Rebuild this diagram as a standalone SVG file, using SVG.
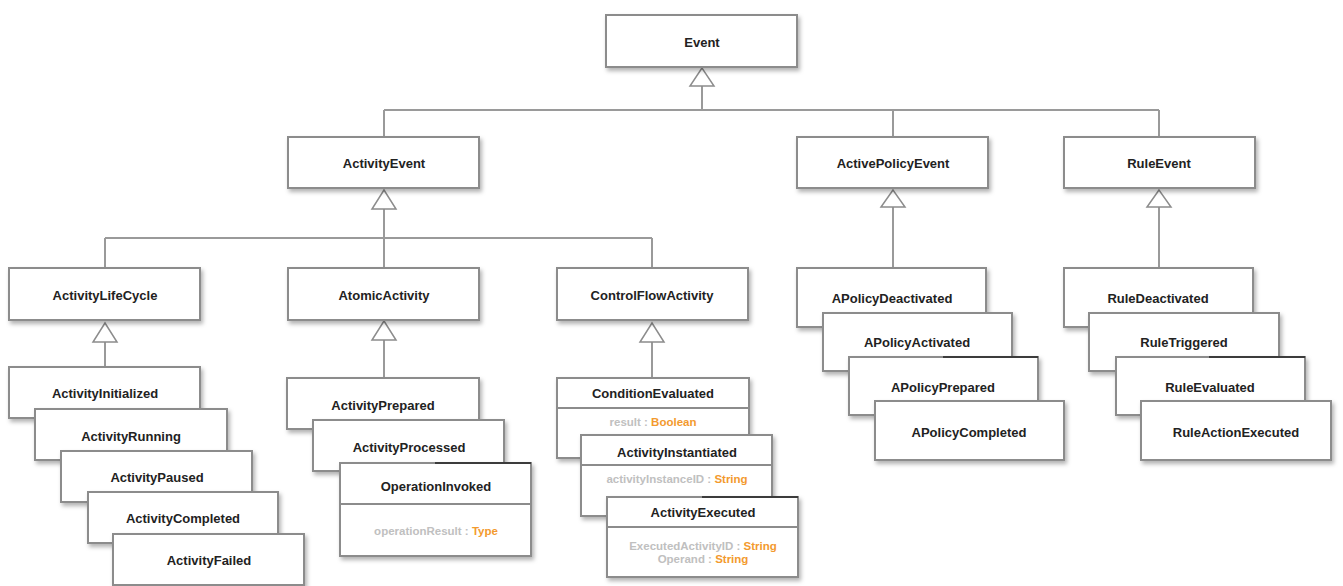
<svg xmlns="http://www.w3.org/2000/svg" width="1343" height="586" viewBox="0 0 1343 586">
  <defs>
    <filter id="shadow" x="-10%" y="-20%" width="130%" height="150%">
      <feDropShadow dx="2" dy="3" stdDeviation="2" flood-color="#000" flood-opacity="0.3"/>
    </filter>
  </defs>
  <style>
    .box { fill: #fff; stroke: #8c8c8c; stroke-width: 2; filter: url(#shadow); }
    .div { stroke: #8c8c8c; stroke-width: 2; }
    .edge { stroke: #9a9a9a; stroke-width: 2; fill: none; }
    .tri { fill: #fff; stroke: #8c8c8c; stroke-width: 1.5; }
    .ink { stroke: #222; stroke-width: 1.3; }
    .name { font-family: "Liberation Sans", Arial, sans-serif; font-weight: bold; font-size: 13px; fill: #222; text-anchor: middle; dominant-baseline: central; }
    .attr { font-family: "Liberation Sans", Arial, sans-serif; font-weight: bold; font-size: 11.5px; fill: #c0c0c0; text-anchor: middle; dominant-baseline: central; }
    .type { fill: #f39a2e; }
  </style>

  <!-- generalization connectors -->
  <g id="connectors">
    <path class="edge" d="M702 86 V110 M384 110 H1159 M384 110 V137 M893 110 V137 M1159 110 V137"/>
    <path class="edge" d="M384 209 V268 M105 238 H652 M105 238 V268 M652 238 V268"/>
    <path class="edge" d="M105 342 V367 M384 340 V378 M652 342 V378 M893 207 V268 M1159 207 V268"/>
    <polygon class="tri" points="702,68 690,86 714,86"/>
    <polygon class="tri" points="384,190 372,209 396,209"/>
    <polygon class="tri" points="893,190 881,207 905,207"/>
    <polygon class="tri" points="1159,190 1147,207 1171,207"/>
    <polygon class="tri" points="105,323 93,342 117,342"/>
    <polygon class="tri" points="384,321 372,340 396,340"/>
    <polygon class="tri" points="652,323 640,342 664,342"/>
  </g>

  <g id="event"><rect class="box" x="606" y="15" width="191" height="52"/><text class="name" x="702" y="42">Event</text></g>

  <g id="activityEvent"><rect class="box" x="288" y="137" width="191" height="51"/><text class="name" x="384" y="163">ActivityEvent</text></g>
  <g id="activePolicyEvent"><rect class="box" x="797" y="137" width="191" height="51"/><text class="name" x="893" y="163">ActivePolicyEvent</text></g>
  <g id="ruleEvent"><rect class="box" x="1064" y="137" width="191" height="51"/><text class="name" x="1159" y="163">RuleEvent</text></g>

  <g id="activityLifeCycle"><rect class="box" x="9" y="268" width="191" height="52"/><text class="name" x="105" y="295">ActivityLifeCycle</text></g>
  <g id="atomicActivity"><rect class="box" x="288" y="268" width="191" height="52"/><text class="name" x="384" y="295">AtomicActivity</text></g>
  <g id="controlFlowActivity"><rect class="box" x="557" y="268" width="191" height="52"/><text class="name" x="652" y="295">ControlFlowActivity</text></g>

  <!-- life-cycle events -->
  <g id="activityInitialized"><rect class="box" x="9" y="367" width="191" height="51"/><text class="name" x="105" y="393">ActivityInitialized</text></g>
  <g id="activityRunning"><rect class="box" x="35" y="409" width="192" height="51"/><text class="name" x="131" y="436">ActivityRunning</text></g>
  <g id="activityPaused"><rect class="box" x="61" y="451" width="191" height="51"/><text class="name" x="157" y="477">ActivityPaused</text></g>
  <g id="activityCompleted"><rect class="box" x="88" y="492" width="190" height="51"/><text class="name" x="183" y="518">ActivityCompleted</text></g>
  <g id="activityFailed"><rect class="box" x="113" y="534" width="191" height="51"/><text class="name" x="209" y="560">ActivityFailed</text></g>

  <!-- atomic activity events -->
  <g id="activityPrepared"><rect class="box" x="287" y="378" width="192" height="51"/><text class="name" x="383" y="405">ActivityPrepared</text></g>
  <g id="activityProcessed"><rect class="box" x="313" y="420" width="191" height="51"/><text class="name" x="409" y="447">ActivityProcessed</text></g>
  <g id="operationInvoked">
    <rect class="box" x="340" y="463" width="191" height="93"/>
    <line class="ink" x1="435" y1="463" x2="531" y2="463"/>
    <line class="div" x1="340" y1="504" x2="531" y2="504"/>
    <text class="name" x="436" y="486">OperationInvoked</text>
    <text class="attr" x="436" y="531">operationResult : <tspan class="type">Type</tspan></text>
  </g>

  <!-- control flow events -->
  <g id="conditionEvaluated">
    <rect class="box" x="557" y="378" width="192" height="80"/>
    <line class="div" x1="557" y1="408" x2="749" y2="408"/>
    <text class="name" x="653" y="393">ConditionEvaluated</text>
    <text class="attr" x="653" y="422">result : <tspan class="type">Boolean</tspan></text>
  </g>
  <g id="activityInstantiated">
    <rect class="box" x="581" y="435" width="191" height="81"/>
    <line class="div" x1="581" y1="465" x2="772" y2="465"/>
    <text class="name" x="677" y="452">ActivityInstantiated</text>
    <text class="attr" x="677" y="479">activityInstanceID : <tspan class="type">String</tspan></text>
  </g>
  <g id="activityExecuted">
    <rect class="box" x="607" y="497" width="191" height="80"/>
    <line class="ink" x1="702" y1="497" x2="798" y2="497"/>
    <line class="div" x1="607" y1="527" x2="798" y2="527"/>
    <text class="name" x="703" y="512">ActivityExecuted</text>
    <text class="attr" x="703" y="546">ExecutedActivityID : <tspan class="type">String</tspan></text>
    <text class="attr" x="703" y="559">Operand : <tspan class="type">String</tspan></text>
  </g>

  <!-- policy events -->
  <g id="aPolicyDeactivated"><rect class="box" x="797" y="268" width="189" height="59"/><text class="name" x="892" y="298">APolicyDeactivated</text></g>
  <g id="aPolicyActivated"><rect class="box" x="823" y="313" width="189" height="58"/><text class="name" x="917" y="342">APolicyActivated</text></g>
  <g id="aPolicyPrepared"><rect class="box" x="849" y="357" width="189" height="58"/><line class="ink" x1="943" y1="357" x2="1038" y2="357"/><text class="name" x="943" y="387">APolicyPrepared</text></g>
  <g id="aPolicyCompleted"><rect class="box" x="875" y="401" width="189" height="59"/><text class="name" x="969" y="432">APolicyCompleted</text></g>

  <!-- rule events -->
  <g id="ruleDeactivated"><rect class="box" x="1064" y="268" width="189" height="59"/><text class="name" x="1158" y="298">RuleDeactivated</text></g>
  <g id="ruleTriggered"><rect class="box" x="1089" y="313" width="190" height="58"/><text class="name" x="1184" y="342">RuleTriggered</text></g>
  <g id="ruleEvaluated"><rect class="box" x="1116" y="357" width="189" height="58"/><line class="ink" x1="1209" y1="357" x2="1305" y2="357"/><text class="name" x="1210" y="387">RuleEvaluated</text></g>
  <g id="ruleActionExecuted"><rect class="box" x="1141" y="401" width="190" height="59"/><text class="name" x="1236" y="432">RuleActionExecuted</text></g>
</svg>
